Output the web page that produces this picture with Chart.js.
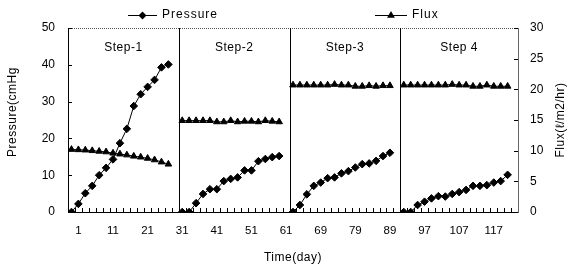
<!DOCTYPE html>
<html><head><meta charset="utf-8">
<script src="https://cdn.jsdelivr.net/npm/chart.js@4/dist/chart.umd.min.js"></script>
<style>html,body{margin:0;padding:0;background:#fff;}canvas{display:block;}</style>
</head><body>
<canvas id="c" width="574" height="271"></canvas>
<script>
// ---- data ----
const xTickLabels = ['1','11','21','31','41','51','61','69','79','89','97','107','117'];
const xTickSlots = [1,6,11,16,21,26,31,36,41,46,51,56,61];
const slotCount = 65;
const stepNames = ['Step-1','Step-2','Step-3','Step 4'];
const stepStartSlots = [0,16,32,48];

const pressureStep1 = [0, 2.2, 5.1, 7.1, 10.0, 12.0, 14.3, 18.7, 22.6, 28.8, 32.0, 34.0, 35.9, 39.3, 40.1];
const pressureStep2 = [0, 0, 2.4, 4.9, 6.2, 6.2, 8.4, 9.0, 9.4, 11.3, 11.3, 13.8, 14.4, 14.9, 15.2];
const pressureStep3 = [0, 1.9, 4.8, 7.1, 8.0, 9.2, 9.4, 10.5, 11.1, 12.1, 13.0, 13.2, 13.9, 15.2, 16.1];
const pressureStep4 = [0, 0, 1.9, 2.8, 3.7, 4.3, 4.2, 4.9, 5.4, 6.0, 7.1, 7.1, 7.3, 8.0, 8.4, 10.1];

const fluxStep1 = [10.2, 10.15, 10.1, 10.0, 9.9, 9.8, 9.6, 9.45, 9.3, 9.1, 8.95, 8.75, 8.5, 8.15, 7.8];
const fluxStep2 = [14.9, 14.9, 14.9, 14.9, 14.9, 14.7, 14.7, 14.9, 14.7, 14.8, 14.8, 14.7, 14.9, 14.8, 14.7];
const fluxStep3 = [20.7, 20.7, 20.7, 20.7, 20.7, 20.7, 20.8, 20.7, 20.7, 20.5, 20.5, 20.6, 20.5, 20.6, 20.6];
const fluxStep4 = [20.7, 20.7, 20.7, 20.7, 20.7, 20.7, 20.7, 20.8, 20.7, 20.7, 20.5, 20.5, 20.7, 20.5, 20.5, 20.5];

// ---- build ----
function buildSeries(steps) {
  const pts = [];
  steps.forEach((vals, s) => {
    vals.forEach((v, i) => pts.push({x: stepStartSlots[s] + i, y: v}));
    pts.push({x: stepStartSlots[s] + vals.length, y: null});
  });
  return pts;
}
const FONT = "'Liberation Sans', Arial, sans-serif";

function marker(ctx, style, cx, cy, r) {
  ctx.beginPath();
  if (style === 'rectRot') {
    ctx.moveTo(cx - r, cy); ctx.lineTo(cx, cy - r); ctx.lineTo(cx + r, cy); ctx.lineTo(cx, cy + r);
  } else {
    for (let k = 0; k < 3; k++) {
      const a = k * 2 * Math.PI / 3;
      const px = cx + Math.sin(a) * r, py = cy - Math.cos(a) * r;
      if (k === 0) ctx.moveTo(px, py); else ctx.lineTo(px, py);
    }
  }
  ctx.closePath(); ctx.fill();
}

const decor = {
  id: 'decor',
  afterDraw(chart) {
    const {ctx, chartArea: a, scales: {x, y, y1}} = chart;
    ctx.save();
    ctx.lineWidth = 1;
    // top dotted border
    ctx.strokeStyle = '#555';
    ctx.setLineDash([1, 1]);
    ctx.beginPath(); ctx.moveTo(a.left, a.top + 0.5); ctx.lineTo(a.right, a.top + 0.5); ctx.stroke();
    ctx.setLineDash([]);
    ctx.strokeStyle = '#000';
    // step separators
    stepStartSlots.slice(1).forEach(s => {
      const px = Math.round(x.getPixelForValue(s - 0.5)) + 0.5;
      ctx.beginPath(); ctx.moveTo(px, a.top); ctx.lineTo(px, a.bottom); ctx.stroke();
    });
    // inward tick marks
    ctx.beginPath();
    for (let k = 1; k < slotCount; k++) {
      const px = Math.round(x.getPixelForValue(k - 0.5)) + 0.5;
      ctx.moveTo(px, a.bottom); ctx.lineTo(px, a.bottom - 4);
    }
    y.ticks.forEach(t => {
      const py = Math.round(y.getPixelForValue(t.value)) + 0.5;
      ctx.moveTo(a.left, py); ctx.lineTo(a.left + 4, py);
    });
    y1.ticks.forEach(t => {
      const py = Math.round(y1.getPixelForValue(t.value)) + 0.5;
      ctx.moveTo(a.right, py); ctx.lineTo(a.right - 4, py);
    });
    ctx.stroke();
    // step labels
    const edges = [-0.5, ...stepStartSlots.slice(1).map(s => s - 0.5), slotCount - 0.5];
    ctx.fillStyle = '#000';
    ctx.font = '12px ' + FONT;
    ctx.letterSpacing = '0.5px';
    ctx.textAlign = 'center'; ctx.textBaseline = 'middle';
    stepNames.forEach((n, i) => {
      const cx = (x.getPixelForValue(edges[i]) + x.getPixelForValue(edges[i + 1])) / 2;
      ctx.fillText(n, cx, a.top + 20);
    });
    // axis titles
    ctx.letterSpacing = '0.5px';
    ctx.save(); ctx.translate(13, 112); ctx.rotate(-Math.PI / 2);
    ctx.fillText('Pressure(cmHg', 0, 0); ctx.restore();
    ctx.save(); ctx.translate(561, 120); ctx.rotate(-Math.PI / 2);
    ctx.fillText('Flux(ℓ/m2/hr)', 0, 0); ctx.restore();
    ctx.fillText('Time(day)', (a.left + a.right) / 2, 258);
    // legend
    ctx.letterSpacing = '1px';
    ctx.textAlign = 'left';
    const items = [
      {label: 'Pressure', style: 'rectRot', x0: 128, x1: 157, r: 4},
      {label: 'Flux', style: 'triangle', x0: 375, x1: 407, r: 4.5}
    ];
    items.forEach(it => {
      const ly = 15;
      ctx.beginPath(); ctx.moveTo(it.x0, ly + 0.5); ctx.lineTo(it.x1, ly + 0.5); ctx.stroke();
      marker(ctx, it.style, (it.x0 + it.x1) / 2, ly + 0.5, it.r);
      ctx.fillText(it.label, it.x1 + 5, ly);
    });
    ctx.restore();
  }
};

new Chart(document.getElementById('c'), {
  type: 'line',
  data: {
    datasets: [
      {
        label: 'Pressure', yAxisID: 'y',
        data: buildSeries([pressureStep1, pressureStep2, pressureStep3, pressureStep4]),
        borderColor: '#000', backgroundColor: '#000', borderWidth: 1,
        pointStyle: 'rectRot', pointRadius: 3.8, pointBorderWidth: 1,
        pointBorderColor: '#000', pointBackgroundColor: '#000',
        tension: 0, spanGaps: false
      },
      {
        label: 'Flux', yAxisID: 'y1',
        data: buildSeries([fluxStep1, fluxStep2, fluxStep3, fluxStep4]),
        borderColor: '#000', backgroundColor: '#000', borderWidth: 1,
        pointStyle: 'triangle', pointRadius: 3.8, pointBorderWidth: 1,
        pointBorderColor: '#000', pointBackgroundColor: '#000',
        tension: 0, spanGaps: false
      }
    ]
  },
  options: {
    responsive: false, animation: false, devicePixelRatio: 1,
    layout: {padding: {top: 28, left: 0, right: 0, bottom: 0}},
    plugins: {legend: {display: false}, tooltip: {enabled: false}},
    scales: {
      x: {
        type: 'linear', min: -0.5, max: slotCount - 0.5,
        afterBuildTicks: sc => { sc.ticks = xTickSlots.map(v => ({value: v})); },
        afterFit: sc => { sc.height = 59; },
        ticks: {autoSkip: false, maxRotation: 0, minRotation: 0,
          callback: (v, i) => xTickLabels[i],
          color: '#000', font: {family: FONT, size: 11.5}, padding: 12},
        grid: {drawOnChartArea: false, drawTicks: false},
        border: {color: '#000', width: 1}
      },
      y: {
        position: 'left', min: 0, max: 50,
        afterFit: sc => { sc.width = 68; },
        ticks: {stepSize: 10, color: '#000', font: {family: FONT, size: 12}, padding: 13},
        grid: {drawOnChartArea: false, drawTicks: false},
        border: {color: '#000', width: 1}
      },
      y1: {
        position: 'right', min: 0, max: 30,
        afterFit: sc => { sc.width = 56; },
        ticks: {stepSize: 5, color: '#000', font: {family: FONT, size: 12}, padding: 12},
        grid: {drawOnChartArea: false, drawTicks: false},
        border: {color: '#666', width: 1, dash: [1, 1]}
      }
    }
  },
  plugins: [decor]
});
</script>
</body></html>
